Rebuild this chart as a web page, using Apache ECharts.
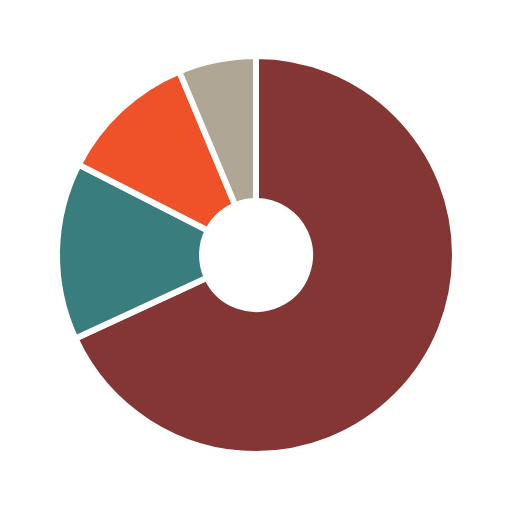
<!DOCTYPE html>
<html><head><meta charset="utf-8">
<script src="https://cdn.jsdelivr.net/npm/echarts@6/dist/echarts.min.js"></script>
<style>html,body{margin:0;padding:0;background:#fff}#c{width:512px;height:512px}</style>
</head><body><div id="c"></div>
<script>
const categories = ['A', 'B', 'C', 'D'];
const values = [68.1, 14.4, 11.2, 6.3];
const colors = ['#843634', '#3a7d7e', '#ef5128', '#b0a695'];

const chart = echarts.init(document.getElementById('c'), null, {renderer: 'canvas'});
chart.setOption({
  animation: false,
  backgroundColor: '#ffffff',
  series: [{
    type: 'pie',
    center: [256, 255],
    radius: [54, 199],
    startAngle: 90,
    clockwise: true,
    label: {show: false},
    labelLine: {show: false},
    itemStyle: {borderColor: '#ffffff', borderWidth: 6},
    data: categories.map((c, i) => ({name: c, value: values[i], itemStyle: {color: colors[i]}}))
  }]
});
</script></body></html>
